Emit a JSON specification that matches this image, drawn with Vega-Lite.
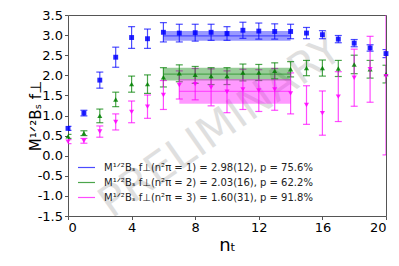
{
  "$schema": "https://vega.github.io/schema/vega-lite/v6.json",
  "width": 318,
  "height": 201,
  "autosize": "none",
  "padding": {"left": 68, "top": 15, "right": 13, "bottom": 50},
  "config": {
    "view": {"stroke": "#555555", "strokeWidth": 1},
    "font": "DejaVu Sans",
    "axis": {"grid": false, "domain": false, "tickColor": "#555555", "tickSize": 3.5, "labelFontSize": 13, "labelColor": "#000000", "titleColor": "#000000", "titleFontWeight": "normal", "labelFont": "DejaVu Sans", "titleFont": "DejaVu Sans", "labelPadding": 2, "labelOverlap": false}
  },
  "datasets": {
    "wm": [{"x": 9.6, "y": 0.72, "t": "PRELIMINARY"}],
    "bands": [
      {"series": "1", "x1": 6, "x2": 14, "lo": 2.86, "hi": 3.10, "c": 2.98},
      {"series": "2", "x1": 6, "x2": 14, "lo": 1.87, "hi": 2.19, "c": 2.03},
      {"series": "3", "x1": 7, "x2": 14, "lo": 1.29, "hi": 1.91, "c": 1.60}
    ],
    "pts": [
      {"series": "1", "n": 0, "val": 0.68, "err": 0.05},
      {"series": "1", "n": 1, "val": 1.06, "err": 0.07},
      {"series": "1", "n": 2, "val": 1.88, "err": 0.2},
      {"series": "1", "n": 3, "val": 2.45, "err": 0.25},
      {"series": "1", "n": 4, "val": 2.94, "err": 0.27},
      {"series": "1", "n": 5, "val": 2.91, "err": 0.24},
      {"series": "1", "n": 6, "val": 3.07, "err": 0.24},
      {"series": "1", "n": 7, "val": 3.05, "err": 0.22},
      {"series": "1", "n": 8, "val": 3.06, "err": 0.21},
      {"series": "1", "n": 9, "val": 3.07, "err": 0.2},
      {"series": "1", "n": 10, "val": 3.04, "err": 0.17},
      {"series": "1", "n": 11, "val": 3.12, "err": 0.2},
      {"series": "1", "n": 12, "val": 3.10, "err": 0.2},
      {"series": "1", "n": 13, "val": 3.09, "err": 0.19},
      {"series": "1", "n": 14, "val": 3.09, "err": 0.18},
      {"series": "1", "n": 15, "val": 3.05, "err": 0.14},
      {"series": "1", "n": 16, "val": 3.01, "err": 0.1},
      {"series": "1", "n": 17, "val": 2.90, "err": 0.09},
      {"series": "1", "n": 18, "val": 2.80, "err": 0.09},
      {"series": "1", "n": 19, "val": 2.68, "err": 0.08},
      {"series": "1", "n": 20, "val": 2.54, "err": 0.1},
      {"series": "2", "n": 0, "val": 0.48, "err": 0.05},
      {"series": "2", "n": 1, "val": 0.56, "err": 0.06},
      {"series": "2", "n": 2, "val": 0.99, "err": 0.17},
      {"series": "2", "n": 3, "val": 1.40, "err": 0.18},
      {"series": "2", "n": 4, "val": 1.78, "err": 0.2},
      {"series": "2", "n": 5, "val": 1.78, "err": 0.23},
      {"series": "2", "n": 6, "val": 1.95, "err": 0.24},
      {"series": "2", "n": 7, "val": 2.05, "err": 0.21},
      {"series": "2", "n": 8, "val": 2.01, "err": 0.21},
      {"series": "2", "n": 9, "val": 1.98, "err": 0.21},
      {"series": "2", "n": 10, "val": 1.98, "err": 0.21},
      {"series": "2", "n": 11, "val": 2.07, "err": 0.21},
      {"series": "2", "n": 12, "val": 2.07, "err": 0.2},
      {"series": "2", "n": 13, "val": 2.11, "err": 0.2},
      {"series": "2", "n": 14, "val": 2.15, "err": 0.19},
      {"series": "2", "n": 15, "val": 2.18, "err": 0.19},
      {"series": "2", "n": 16, "val": 2.18, "err": 0.2},
      {"series": "2", "n": 17, "val": 2.17, "err": 0.2},
      {"series": "2", "n": 18, "val": 2.27, "err": 0.23},
      {"series": "2", "n": 19, "val": 2.15, "err": 0.22},
      {"series": "2", "n": 20, "val": 2.03, "err": 0.22},
      {"series": "3", "n": 0, "val": 0.35, "err": 0.05},
      {"series": "3", "n": 1, "val": 0.37, "err": 0.06},
      {"series": "3", "n": 2, "val": 0.60, "err": 0.14},
      {"series": "3", "n": 3, "val": 0.84, "err": 0.2},
      {"series": "3", "n": 4, "val": 1.09, "err": 0.27},
      {"series": "3", "n": 5, "val": 1.22, "err": 0.29},
      {"series": "3", "n": 6, "val": 1.51, "err": 0.36},
      {"series": "3", "n": 7, "val": 1.76, "err": 0.35},
      {"series": "3", "n": 8, "val": 1.78, "err": 0.39},
      {"series": "3", "n": 9, "val": 1.70, "err": 0.46},
      {"series": "3", "n": 10, "val": 1.59, "err": 0.52},
      {"series": "3", "n": 11, "val": 1.65, "err": 0.5},
      {"series": "3", "n": 12, "val": 1.62, "err": 0.52},
      {"series": "3", "n": 13, "val": 1.65, "err": 0.52},
      {"series": "3", "n": 14, "val": 1.55, "err": 0.51},
      {"series": "3", "n": 15, "val": 1.26, "err": 0.48},
      {"series": "3", "n": 16, "val": 1.06, "err": 0.55},
      {"series": "3", "n": 17, "val": 1.47, "err": 0.62},
      {"series": "3", "n": 18, "val": 1.94, "err": 0.71},
      {"series": "3", "n": 19, "val": 2.15, "err": 0.82},
      {"series": "3", "n": 20, "val": 1.98, "err": 1.96}
    ]
  },
  "layer": [
    {
      "data": {"name": "wm"},
      "mark": {"type": "text", "angle": -35, "fontSize": 43, "font": "DejaVu Sans", "fill": "#000000", "opacity": 0.12, "align": "center", "baseline": "middle"},
      "encoding": {
        "x": {"field": "x", "type": "quantitative", "title": "nₜ", "scale": {"domain": [0, 20], "nice": false, "zero": false}, "axis": {"values": [0, 4, 8, 12, 16, 20], "titleFontSize": 18, "titlePadding": 2, "labelOverlap": false, "labelFontSize": 13}},
        "y": {"field": "y", "type": "quantitative", "title": "M¹ᐟ²Bₛ f⊥", "scale": {"domain": [-1.5, 3.5], "nice": false, "zero": false}, "axis": {"values": [-1.5, -1, -0.5, 0, 0.5, 1, 1.5, 2, 2.5, 3, 3.5], "labelExpr": "replace(format(datum.value, '.1f'), '−', '-')", "titleFontSize": 15, "titlePadding": -6, "labelOverlap": false, "labelFontSize": 13}},
        "text": {"field": "t"}
      }
    },
    {
      "data": {"name": "pts"},
      "mark": {"type": "errorbar", "ticks": {"size": 7, "thickness": 1.2}, "rule": {"strokeWidth": 1.2}, "opacity": 0.7, "clip": true},
      "encoding": {
        "x": {"field": "n", "type": "quantitative", "title": "nₜ", "axis": {"values": [0, 4, 8, 12, 16, 20], "titleFontSize": 18, "titlePadding": 2, "labelOverlap": false, "labelFontSize": 13}},
        "y": {"field": "val", "type": "quantitative", "title": "M¹ᐟ²Bₛ f⊥", "axis": {"values": [-1.5, -1, -0.5, 0, 0.5, 1, 1.5, 2, 2.5, 3, 3.5], "labelExpr": "replace(format(datum.value, '.1f'), '−', '-')", "titleFontSize": 15, "titlePadding": -6, "labelOverlap": false, "labelFontSize": 13}},
        "yError": {"field": "err"},
        "color": {"field": "series", "type": "nominal", "scale": {"domain": ["1", "2", "3"], "range": ["#0000ff", "#008000", "#ff00ff"]}}
      }
    },
    {
      "data": {"name": "bands"},
      "mark": {"type": "rect", "opacity": 0.4},
      "encoding": {
        "x": {"field": "x1", "type": "quantitative", "title": "nₜ", "axis": {"values": [0, 4, 8, 12, 16, 20], "titleFontSize": 18, "titlePadding": 2, "labelOverlap": false, "labelFontSize": 13}},
        "x2": {"field": "x2"},
        "y": {"field": "lo", "type": "quantitative", "title": "M¹ᐟ²Bₛ f⊥", "axis": {"values": [-1.5, -1, -0.5, 0, 0.5, 1, 1.5, 2, 2.5, 3, 3.5], "labelExpr": "replace(format(datum.value, '.1f'), '−', '-')", "titleFontSize": 15, "titlePadding": -6, "labelOverlap": false, "labelFontSize": 13}},
        "y2": {"field": "hi"},
        "color": {"field": "series", "type": "nominal"}
      }
    },
    {
      "data": {"name": "bands"},
      "mark": {"type": "rule", "strokeWidth": 1.2, "opacity": 0.5},
      "encoding": {
        "x": {"field": "x1", "type": "quantitative", "title": "nₜ", "axis": {"values": [0, 4, 8, 12, 16, 20], "titleFontSize": 18, "titlePadding": 2, "labelOverlap": false, "labelFontSize": 13}},
        "x2": {"field": "x2"},
        "y": {"field": "c", "type": "quantitative", "title": "M¹ᐟ²Bₛ f⊥", "axis": {"values": [-1.5, -1, -0.5, 0, 0.5, 1, 1.5, 2, 2.5, 3, 3.5], "labelExpr": "replace(format(datum.value, '.1f'), '−', '-')", "titleFontSize": 15, "titlePadding": -6, "labelOverlap": false, "labelFontSize": 13}},
        "color": {"field": "series", "type": "nominal", "legend": {"orient": "none", "legendX": 9, "legendY": 143, "title": null, "symbolType": "stroke", "symbolSize": 289, "symbolStrokeWidth": 1.2, "symbolOpacity": 0.5, "labelFontSize": 10, "labelOffset": 8, "rowPadding": -1, "padding": 0, "labelLimit": 0, "labelColor": "#222222", "labelExpr": "datum.label == '1' ? 'M¹ᐟ²Bₛ f⊥(n²π = 1) = 2.98(12), p = 75.6%' : datum.label == '2' ? 'M¹ᐟ²Bₛ f⊥(n²π = 2) = 2.03(16), p = 62.2%' : 'M¹ᐟ²Bₛ f⊥(n²π = 3) = 1.60(31), p = 91.8%'"}}
      }
    },
    {
      "data": {"name": "pts"},
      "transform": [{"filter": "datum.series == '1'"}],
      "mark": {"type": "point", "shape": "square", "filled": true, "size": 24, "opacity": 0.85},
      "encoding": {
        "x": {"field": "n", "type": "quantitative", "title": "nₜ", "axis": {"values": [0, 4, 8, 12, 16, 20], "titleFontSize": 18, "titlePadding": 2, "labelOverlap": false, "labelFontSize": 13}},
        "y": {"field": "val", "type": "quantitative", "title": "M¹ᐟ²Bₛ f⊥", "axis": {"values": [-1.5, -1, -0.5, 0, 0.5, 1, 1.5, 2, 2.5, 3, 3.5], "labelExpr": "replace(format(datum.value, '.1f'), '−', '-')", "titleFontSize": 15, "titlePadding": -6, "labelOverlap": false, "labelFontSize": 13}},
        "color": {"field": "series", "type": "nominal"}
      }
    },
    {
      "data": {"name": "pts"},
      "transform": [{"filter": "datum.series == '2'"}],
      "mark": {"type": "point", "shape": "triangle-up", "filled": true, "size": 26, "opacity": 0.85},
      "encoding": {
        "x": {"field": "n", "type": "quantitative", "title": "nₜ", "axis": {"values": [0, 4, 8, 12, 16, 20], "titleFontSize": 18, "titlePadding": 2, "labelOverlap": false, "labelFontSize": 13}},
        "y": {"field": "val", "type": "quantitative", "title": "M¹ᐟ²Bₛ f⊥", "axis": {"values": [-1.5, -1, -0.5, 0, 0.5, 1, 1.5, 2, 2.5, 3, 3.5], "labelExpr": "replace(format(datum.value, '.1f'), '−', '-')", "titleFontSize": 15, "titlePadding": -6, "labelOverlap": false, "labelFontSize": 13}},
        "color": {"field": "series", "type": "nominal"}
      }
    },
    {
      "data": {"name": "pts"},
      "transform": [{"filter": "datum.series == '3'"}],
      "mark": {"type": "point", "shape": "triangle-down", "filled": true, "size": 26, "opacity": 0.85},
      "encoding": {
        "x": {"field": "n", "type": "quantitative", "title": "nₜ", "axis": {"values": [0, 4, 8, 12, 16, 20], "titleFontSize": 18, "titlePadding": 2, "labelOverlap": false, "labelFontSize": 13}},
        "y": {"field": "val", "type": "quantitative", "title": "M¹ᐟ²Bₛ f⊥", "axis": {"values": [-1.5, -1, -0.5, 0, 0.5, 1, 1.5, 2, 2.5, 3, 3.5], "labelExpr": "replace(format(datum.value, '.1f'), '−', '-')", "titleFontSize": 15, "titlePadding": -6, "labelOverlap": false, "labelFontSize": 13}},
        "color": {"field": "series", "type": "nominal"}
      }
    }
  ]
}
